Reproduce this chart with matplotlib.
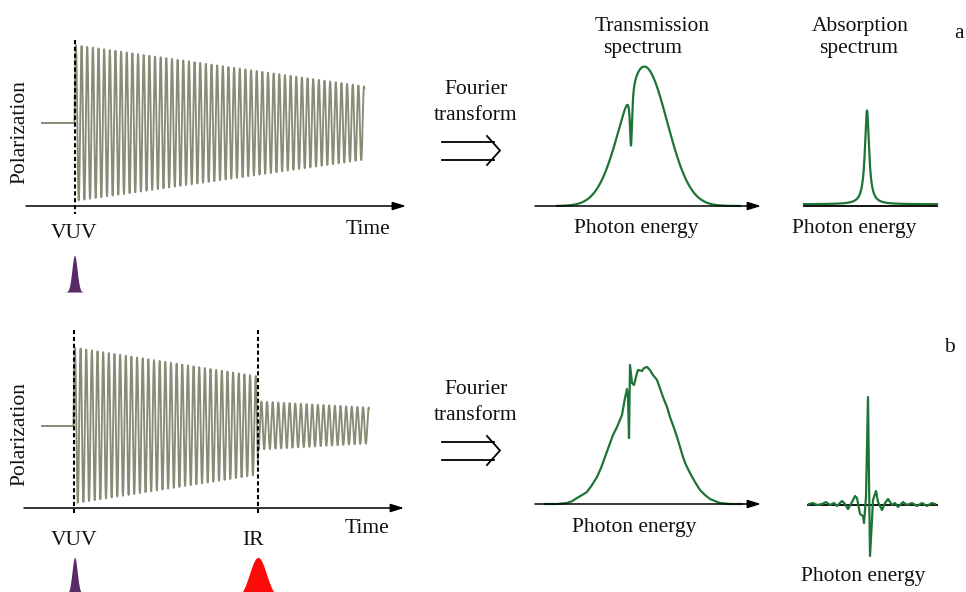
import numpy as np
import matplotlib
matplotlib.use("Agg")
import matplotlib.pyplot as plt

# ---------------- data ----------------
# time traces: time in oscillation cycles, polarization in units of the initial amplitude
osc_a_cycles = 51.3
osc_a_amp = [1.0, 0.47]          # envelope at start / end (linear decay)
pre_a_cycles = 5.75              # flat line before VUV
osc_b1_cycles = 32.65            # VUV -> IR
osc_b1_amp = [1.0, 0.63]
osc_b2_end = 52.3                # end of trace after IR
osc_b2_amp = [0.31, 0.23]
pre_b_cycles = 5.6
vuv_pulse = dict(height=0.47, sigma=0.46)
ir_pulse = dict(height=0.54, sigma=1.5)

# transmission spectrum a: Gaussian with narrow absorption dip
trans_a = dict(center=10.9, sigma=2.3, height=1.0, dip_center=9.6, dip_gamma=0.13, dip_depth=0.42)
# absorption spectrum a: Lorentzian line
absorb_a = dict(center=6.3, gamma=0.25, height=0.67, offset=0.005)

trans_b_E = [1.0, 2.2, 3.2, 3.7, 4.2, 4.7, 5.2, 5.7, 6.2, 6.6, 7.0, 7.4, 7.8, 8.2, 8.7, 9.0,
             9.2, 9.3, 9.4, 9.5, 9.7, 9.9, 10.2, 10.3, 10.7, 10.9, 11.2, 11.5, 11.8, 12.2,
             12.8, 13.2, 13.5, 13.9, 14.2, 14.8, 15.1, 15.5, 16.0, 16.5, 17.0, 17.5, 18.0,
             18.5, 19.5, 20.7]
trans_b_S = [0.0, 0.0, 0.007, 0.02, 0.043, 0.064, 0.086, 0.136, 0.193, 0.257, 0.336, 0.414,
             0.493, 0.55, 0.636, 0.757, 0.821, 0.757, 0.471, 0.993, 0.864, 0.85, 0.936, 0.957,
             0.95, 0.971, 0.979, 0.957, 0.921, 0.886, 0.764, 0.693, 0.621, 0.543, 0.479,
             0.336, 0.279, 0.221, 0.157, 0.1, 0.064, 0.036, 0.021, 0.007, 0.0, 0.0]

absorb_b_E = [0.1, 0.5, 0.9, 1.4, 1.8, 2.2, 2.6, 2.9, 3.4, 3.7, 4.0, 4.4, 4.7, 4.9, 5.2, 5.5,
              5.6, 5.8, 6.0, 6.1, 6.2, 6.4, 6.5, 6.8, 7.0, 7.4, 7.7, 8.0, 8.4, 8.7, 9.0, 9.5,
              9.9, 10.4, 10.9, 11.4, 11.9, 12.4, 12.7]
absorb_b_S = [0.007, 0.014, 0.0, 0.007, 0.021, 0.0, 0.014, -0.007, 0.029, 0.007, -0.029, 0.021,
              0.064, 0.05, -0.064, -0.079, -0.129, 0.057, 0.771, 0.179, -0.364, -0.107, 0.036,
              0.1, 0.021, -0.036, 0.014, 0.043, 0.0, 0.014, -0.014, 0.021, 0.0, 0.014, -0.007,
              0.014, -0.007, 0.014, 0.007]

labels = dict(pol="Polarization", time="Time", vuv="VUV", ir="IR", ft1="Fourier", ft2="transform",
              tr1="Transmission", tr2="spectrum", ab1="Absorption", ab2="spectrum",
              pe="Photon energy", a="a", b="b")

# ---------------- styling ----------------
W, H = 966, 592
OSC = "#878c75"
GREEN = "#1d7436"
PURPLE = "#5a2a66"
RED = "#ff0a0a"
FONT = dict(family="Liberation Serif", size=15.5, color="#111111")

fig = plt.figure(figsize=(W / 100, H / 100), dpi=100)
fig.patch.set_facecolor("white")


def panel(bx0, bx1, by0, by1, xpx, xval, xs, ypx, yval, ys):
    ax = fig.add_axes([bx0 / W, 1 - by1 / H, (bx1 - bx0) / W, (by1 - by0) / H])
    ax.set_xlim(xval + (bx0 - xpx) / xs, xval + (bx1 - xpx) / xs)
    ax.set_ylim(yval - (by1 - ypx) / ys, yval + (ypx - by0) / ys)
    ax.axis("off")
    ax.patch.set_alpha(0)
    return ax


def envelope_sine(t, amps):
    t0, t1 = t[0], t[-1]
    env = amps[0] + (amps[1] - amps[0]) * (t - t0) / (t1 - t0)
    return env


# ---------- time panel a ----------
axa = panel(0, 420, 0, 300, 74.5, 0.0, 5.65, 123, 0.0, 78)
t = np.linspace(0, osc_a_cycles, 6000)
axa.plot(t, envelope_sine(t, osc_a_amp) * np.sin(2 * np.pi * t), color=OSC, lw=1.35)
axa.plot([-pre_a_cycles, 0], [0, 0], color=OSC, lw=1.4)
tp = np.linspace(-3, 3, 300)
base_a = -2.167
axa.fill_between(tp, base_a, base_a + vuv_pulse["height"] * np.exp(-tp**2 / (2 * vuv_pulse["sigma"]**2)),
                 color=PURPLE, lw=0)

# ---------- time panel b ----------
axb = panel(0, 420, 300, 592, 73.5, 0.0, 5.65, 425.5, 0.0, 78)
t1 = np.linspace(0, osc_b1_cycles, 4000)
t2 = np.linspace(osc_b1_cycles, osc_b2_end, 2500)
y1 = envelope_sine(t1, osc_b1_amp) * np.sin(2 * np.pi * t1)
y2 = envelope_sine(t2, osc_b2_amp) * np.sin(2 * np.pi * t2)
axb.plot(np.concatenate([t1, t2]), np.concatenate([y1, y2]), color=OSC, lw=1.35)
axb.plot([-pre_b_cycles, 0], [0, 0], color=OSC, lw=1.4)
base_b = -2.16
axb.fill_between(tp + 0.2, base_b, base_b + vuv_pulse["height"] * np.exp(-tp**2 / (2 * vuv_pulse["sigma"]**2)),
                 color=PURPLE, lw=0)
tr = np.linspace(-6, 6, 400)
base_ir = -2.23
axb.fill_between(tr + osc_b1_cycles, base_ir,
                 base_ir + ir_pulse["height"] * np.exp(-tr**2 / (2 * ir_pulse["sigma"]**2)),
                 color=RED, lw=0)

# ---------- transmission a ----------
axt = panel(530, 775, 0, 260, 535, 0.0, 10, 206, 0.0, 140)
E = np.linspace(2.2, 20.5, 3000)
g = trans_a["height"] * np.exp(-(E - trans_a["center"])**2 / (2 * trans_a["sigma"]**2))
dip = trans_a["dip_depth"] / (1 + ((E - trans_a["dip_center"]) / trans_a["dip_gamma"])**2)
axt.plot(E, g - dip, color=GREEN, lw=1.6)

# ---------- absorption a ----------
axab = panel(790, 950, 0, 260, 804, 0.0, 10, 205, 0.0, 140)
E2 = np.linspace(0.0, 13.3, 3000)
lor = absorb_a["height"] / (1 + ((E2 - absorb_a["center"]) / absorb_a["gamma"])**2)
axab.plot(E2, lor + absorb_a["offset"], color=GREEN, lw=1.6)

# ---------- transmission b ----------
axtb = panel(530, 775, 300, 592, 535, 0.0, 10, 504, 0.0, 140)
axtb.plot(trans_b_E, trans_b_S, color=GREEN, lw=1.6)

# ---------- absorption b ----------
axbb = panel(790, 950, 300, 592, 808, 0.0, 10, 505, 0.0, 140)

# ---------- overlay for schematic elements ----------
ov = fig.add_axes([0, 0, 1, 1])
ov.set_xlim(0, W)
ov.set_ylim(H, 0)
ov.axis("off")
ov.patch.set_alpha(0)


def arrow(x0, x1, y):
    ov.annotate("", xy=(x1, y), xytext=(x0, y),
                arrowprops=dict(arrowstyle="-|>,head_length=0.8,head_width=0.25", mutation_scale=10,
                                lw=1.1, color="k", shrinkA=0, shrinkB=0))


def dashed(x, y0, y1):
    ov.plot([x, x], [y0, y1], color="k", lw=1.5, dashes=(2.0, 1.3), zorder=5)


def double_arrow(ym):
    ov.plot([442, 494], [ym - 8.5, ym - 8.5], color="k", lw=1.3)
    ov.plot([442, 494], [ym + 9.5, ym + 9.5], color="k", lw=1.3)
    ov.plot([487, 500, 487], [ym - 14, ym + 0.5, ym + 15], color="k", lw=1.3, solid_joinstyle="miter")


# time axes
arrow(26, 406, 206)
dashed(74.5, 40, 214)
arrow(24, 404, 508)
dashed(73.5, 330, 514)
dashed(258, 330, 514)

# spectra axes
arrow(535, 761, 206)
ov.plot([804, 937], [205.5, 205.5], color="k", lw=1.3)
arrow(535, 761, 504)
ov.plot([808, 937], [505, 505], color="k", lw=1.3)
ov.plot(np.array(absorb_b_E) * 10 + 808, 505 - np.array(absorb_b_S) * 140, color=GREEN, lw=1.6, zorder=6)

double_arrow(150)
double_arrow(450)

# texts
def txt(x, y, s, **kw):
    ov.text(x, y, s, ha=kw.pop("ha", "center"), va=kw.pop("va", "baseline"), **FONT, **kw)

txt(20, 132, labels["pol"], rotation=90, va="center")
txt(20, 434, labels["pol"], rotation=90, va="center")
txt(74, 238, labels["vuv"])
txt(368, 234, labels["time"])
txt(74, 545, labels["vuv"])
txt(253, 545, labels["ir"])
txt(367, 533, labels["time"])

txt(476.5, 94.5, labels["ft1"])
txt(476, 119.5, labels["ft2"])
txt(476.5, 394.5, labels["ft1"])
txt(476, 419.5, labels["ft2"])

txt(652, 31, labels["tr1"])
txt(643, 53, labels["tr2"])
txt(860, 31, labels["ab1"])
txt(859, 53, labels["ab2"])
txt(959, 38, labels["a"])
txt(949, 352, labels["b"])

txt(636.5, 232.5, labels["pe"])
txt(854, 232.5, labels["pe"])
txt(634.5, 532, labels["pe"])
txt(863, 581, labels["pe"])

fig.savefig("out.png", dpi=100, facecolor="white")
